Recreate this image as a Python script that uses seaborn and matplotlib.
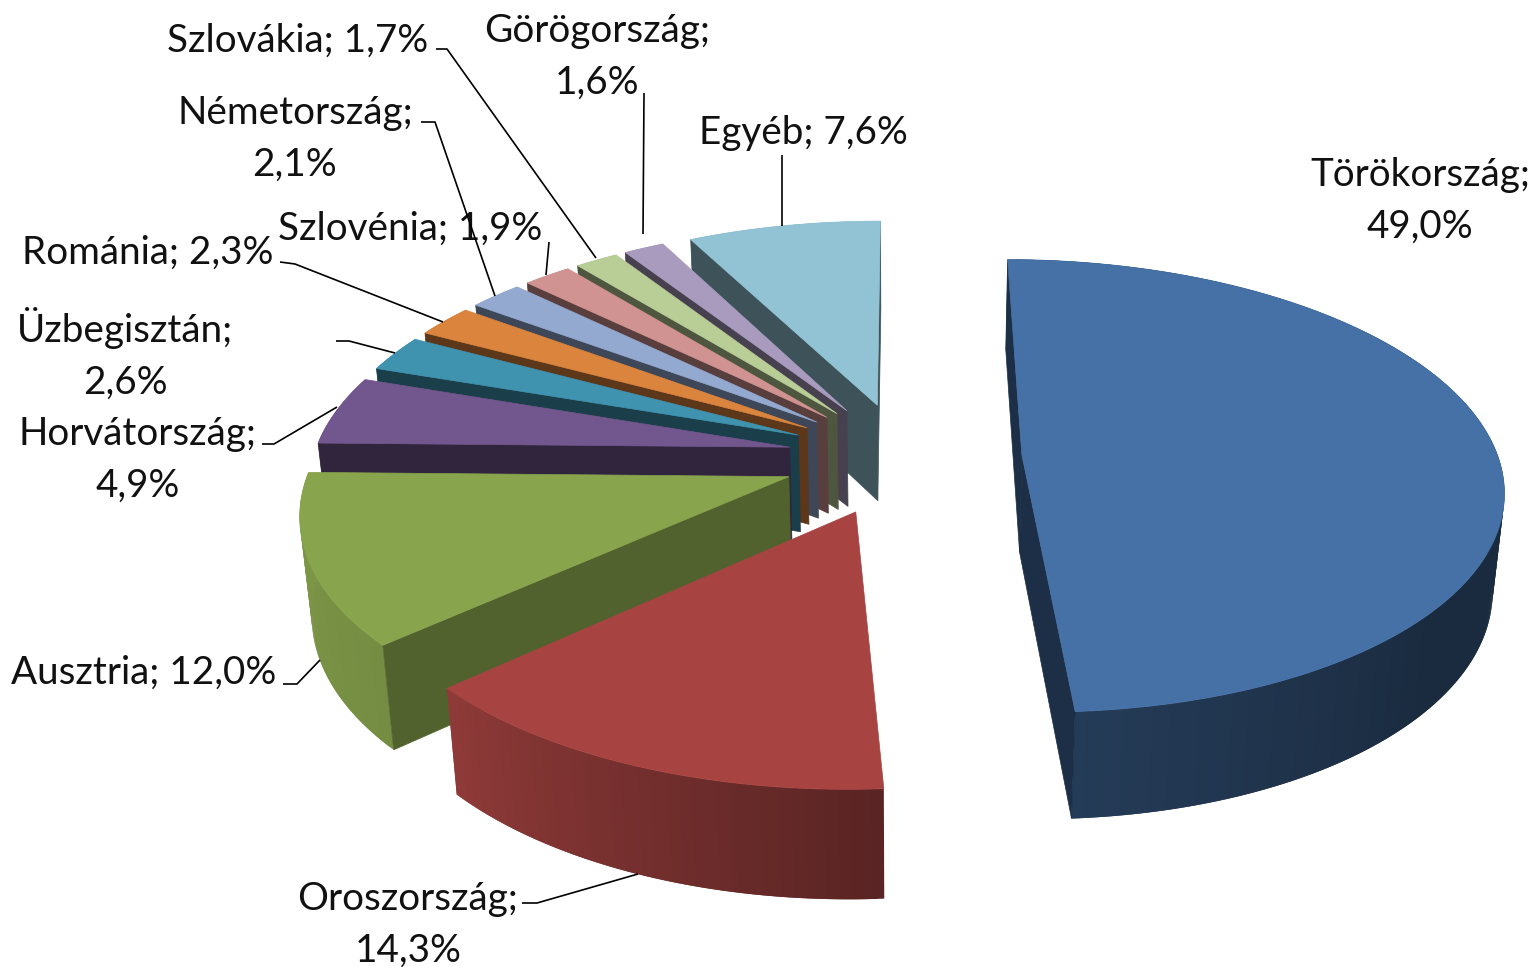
import numpy as np
import matplotlib
matplotlib.use("Agg")
import matplotlib.pyplot as plt
from matplotlib.collections import PolyCollection
from matplotlib.colors import to_rgb
from matplotlib.patches import Polygon
import seaborn as sns

# ---- data ----
countries = ["Törökország", "Oroszország", "Ausztria", "Horvátország", "Üzbegisztán",
             "Románia", "Németország", "Szlovénia", "Szlovákia", "Görögország", "Egyéb"]
shares = [49.0, 14.3, 12.0, 4.9, 2.6, 2.3, 2.1, 1.9, 1.7, 1.6, 7.6]
# ---- style ----
colors = ["#4571A6", "#A74442", "#88A44D", "#72578F", "#3F93AF", "#DB843D",
          "#93A9CF", "#D19392", "#B9CD96", "#A99BBD", "#92C3D4"]
explode = [0.248, 0.26, 0.255, 0.245, 0.245, 0.245, 0.245, 0.245, 0.245, 0.245, 0.245]
label_wrap = [True, True, False, True, True, False, True, False, False, True, False]
label_pos = [(1420, 201), (408, 925), (144, 673), (138, 460), (125, 354), (148, 253),
             (295, 139), (410, 229), (298, 41), (597, 57), (803, 133)]
leaders = [None,
           [(522, 903), (537, 903), (638, 874)],
           [(283, 684), (297, 684), (320, 660)],
           [(262, 444), (274, 444), (337, 407)],
           [(336, 341), (349, 341), (395, 353)],
           [(280, 262), (295, 264), (443, 322)],
           [(421, 122), (435, 122), (495, 296)],
           [(549, 242), (546, 275)],
           [(436, 49), (447, 49), (596, 258)],
           [(644, 93), (643, 234)],
           [(782, 155), (782, 226)]]

CX, CY, R, H_PERSP, P = 904.0, 456.5, 476.0, 1618.0, 0.1375
shade_angle = [0, 90, 130, 176, 228, 270, 360]
shade_value = [0.5, 0.38, 0.38, 0.53, 0.86, 0.92, 0.92]

sns.set_theme(style="white")
plt.rcParams["font.family"] = ["Lato", "DejaVu Sans"]


def project(u, v):
    w = 1 + P * v
    return CX + R * u / w, CY - H_PERSP + H_PERSP / w


def drop(x, y):
    h = 90 + (y - 260) * 0.0377
    return x + (CX - x) * 0.022 * h / 110, y + h


fig, ax = plt.subplots(figsize=(15.32, 9.67), dpi=100)
ax.set_position([0, 0, 1, 1])
ax.set_xlim(0, 1532)
ax.set_ylim(967, 0)
ax.axis("off")

edges = np.cumsum([0] + shares) / sum(shares) * 2 * np.pi
for i in reversed(range(len(shares))):
    a0, a1 = edges[i], edges[i + 1]
    mid = (a0 + a1) / 2
    ou, ov = explode[i] * np.sin(mid), explode[i] * np.cos(mid)
    th = np.linspace(a0, a1, max(8, int((a1 - a0) * 90)))
    ax_, ay_ = project(ou, ov)
    arc_x, arc_y = project(ou + np.sin(th), ov + np.cos(th))
    base = np.array(to_rgb(colors[i]))
    top = np.column_stack([np.r_[ax_, arc_x], np.r_[ay_, arc_y]])
    centre = top.mean(axis=0)
    face_shade = 0.6 if 200 < np.degrees(a0) < 250 else 0.42
    z = 20 - i
    # outer wall: overlapping strips painted in sequence so no seams show
    bx, by = drop(arc_x, arc_y)
    quads, cols = [], []
    for j in range(len(th) - 1):
        k = min(j + 2, len(th) - 1)
        quads.append([(arc_x[j], arc_y[j]), (arc_x[j + 1], arc_y[j + 1]), (arc_x[k], arc_y[k]),
                      (bx[k], by[k]), (bx[j + 1], by[j + 1]), (bx[j], by[j])])
        cols.append(base * np.interp(np.degrees(th[j]), shade_angle, shade_value))
    ax.add_collection(PolyCollection(quads, facecolors=cols, edgecolors="none", linewidths=0, zorder=z))
    # radial faces that look towards the viewer
    for (px, py) in [(arc_x[0], arc_y[0]), (arc_x[-1], arc_y[-1])]:
        e = np.array([px - ax_, py - ay_])
        n = np.array([-e[1], e[0]])
        m = np.array([(px + ax_) / 2, (py + ay_) / 2])
        if n @ (m - centre) < 0:
            n = -n
        sx, sy = drop(m[0], m[1])
        if n @ np.array([sx - m[0], sy - m[1]]) > 0:
            q = [(ax_, ay_), (px, py), drop(px, py), drop(ax_, ay_)]
            ax.add_patch(Polygon(q, closed=True, fc=base * face_shade, ec=base * face_shade, lw=0.5, zorder=z))
    ax.add_patch(Polygon(top, closed=True, fc=base, ec=base, lw=0.5, zorder=z))

for name, val, wrap, (x, y), lead in zip(countries, shares, label_wrap, label_pos, leaders):
    sep = "\n" if wrap else " "
    txt = f"{name};{sep}{val:.1f}%".replace(".", ",")
    ax.text(x, y, txt, ha="center", va="center", fontsize=27.8, color="#111111",
            linespacing=1.54, zorder=40)
    if lead:
        xs, ys = zip(*lead)
        ax.plot(xs, ys, color="black", lw=1.2, zorder=41, solid_capstyle="butt")

fig.savefig("out.png", dpi=100, facecolor="white")
